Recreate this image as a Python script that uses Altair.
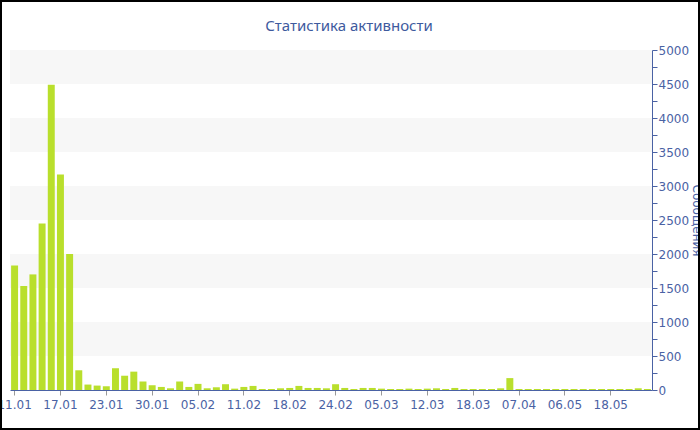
import altair as alt
import pandas as pd

# Daily message counts (only days with activity are listed)
days = [
    "11.01", "12.01", "13.01", "14.01", "15.01",
    "17.01", "18.01", "19.01", "20.01", "21.01",
    "23.01", "24.01", "26.01", "27.01", "28.01",
    "30.01", "31.01", "01.02", "02.02", "03.02",
    "05.02", "06.02", "07.02", "08.02", "09.02",
    "11.02", "12.02", "14.02", "15.02", "16.02",
    "18.02", "19.02", "20.02", "21.02", "22.02",
    "24.02", "25.02", "27.02", "28.02", "02.03",
    "05.03", "06.03", "07.03", "09.03", "10.03",
    "12.03", "13.03", "14.03", "15.03", "16.03",
    "18.03", "21.03", "25.03", "29.03", "03.04",
    "07.04", "11.04", "17.04", "23.04", "30.04",
    "06.05", "08.05", "11.05", "14.05", "16.05",
    "18.05", "20.05", "22.05", "24.05", "27.05",
]
messages = [
    1830, 1530, 1700, 2450, 4490,
    3170, 2000, 290, 80, 65,
    55, 320, 210, 270, 125,
    70, 45, 25, 125, 45,
    90, 25, 40, 85, 20,
    45, 60, 15, 15, 25,
    30, 60, 30, 30, 25,
    85, 30, 15, 30, 30,
    20, 15, 15, 20, 15,
    20, 25, 15, 30, 15,
    15, 15, 15, 25, 175,
    15, 15, 15, 15, 15,
    15, 15, 15, 15, 15,
    15, 15, 15, 25, 15,
]
label_days = days[::5]
y_ticks = list(range(0, 5001, 250))
band_edges = [500, 1500, 2500, 3500, 4500]
chart_title = "Статистика активности"

df = pd.DataFrame({"day": days, "messages": messages})
bands = pd.DataFrame({"lo": band_edges, "hi": [b + 500 for b in band_edges]})

BLUE = "#4a62a4"
FONT = "DejaVu Sans"

y_scale = alt.Scale(domain=[0, 5000], nice=False)
y_axis = alt.Axis(
    orient="right",
    title="Сообщения",
    titleColor=BLUE,
    titleFont=FONT,
    titleFontSize=12,
    titleFontWeight="normal",
    titlePadding=1,
    values=y_ticks,
    labelExpr="datum.value % 500 === 0 ? datum.label : ''",
    labelColor=BLUE,
    labelFont=FONT,
    labelFontSize=12,
    labelPadding=1,
    tickColor=BLUE,
    tickSize=5,
    domainColor=BLUE,
    grid=False,
    format="d",
)

# alternating light bands behind the bars
stripes = alt.Chart(bands).mark_rect(color="#f7f7f7").encode(
    y=alt.Y("lo:Q", scale=y_scale, axis=y_axis),
    y2="hi:Q",
    x=alt.value(0),
    x2=alt.value(642),
)

bars = alt.Chart(df).mark_bar(color="#b9df2c").encode(
    x=alt.X(
        "day:N",
        sort=None,
        scale=alt.Scale(paddingInner=0.24, paddingOuter=0.12),
        axis=alt.Axis(
            title=None,
            values=label_days,
            labelAngle=0,
            labelColor=BLUE,
            labelFont=FONT,
            labelFontSize=12,
            labelPadding=4,
            labelOverlap=False,
            tickColor="#999999",
            tickSize=5,
            domainColor=BLUE,
            domainWidth=1,
            grid=False,
        ),
    ),
    y=alt.Y("messages:Q", scale=y_scale, axis=y_axis),
)

# chart heading, centred on the whole canvas
heading = alt.Chart(pd.DataFrame({"t": [chart_title]})).mark_text(
    font="Noto Sans", fontSize=15, color="#3e5a9e", align="center", baseline="middle"
).encode(
    text="t:N",
    x=alt.value(339),
    y=alt.value(-24),
)

# thin black border around the canvas
frame = alt.Chart(pd.DataFrame({"k": [0]})).mark_rect(
    fill=None, stroke="black", strokeWidth=2
).encode(
    x=alt.value(-9),
    x2=alt.value(689),
    y=alt.value(-49),
    y2=alt.value(379),
)

chart = (
    alt.layer(stripes, bars, heading, frame)
    .properties(
        width=642,
        height=340,
        padding={"left": 10, "top": 50, "right": 48, "bottom": 40},
        autosize=alt.AutoSizeParams(type="none"),
        background="white",
    )
    .configure_view(stroke=None)
)

chart.save("out.html", embed_options={"renderer": "svg", "actions": False})
